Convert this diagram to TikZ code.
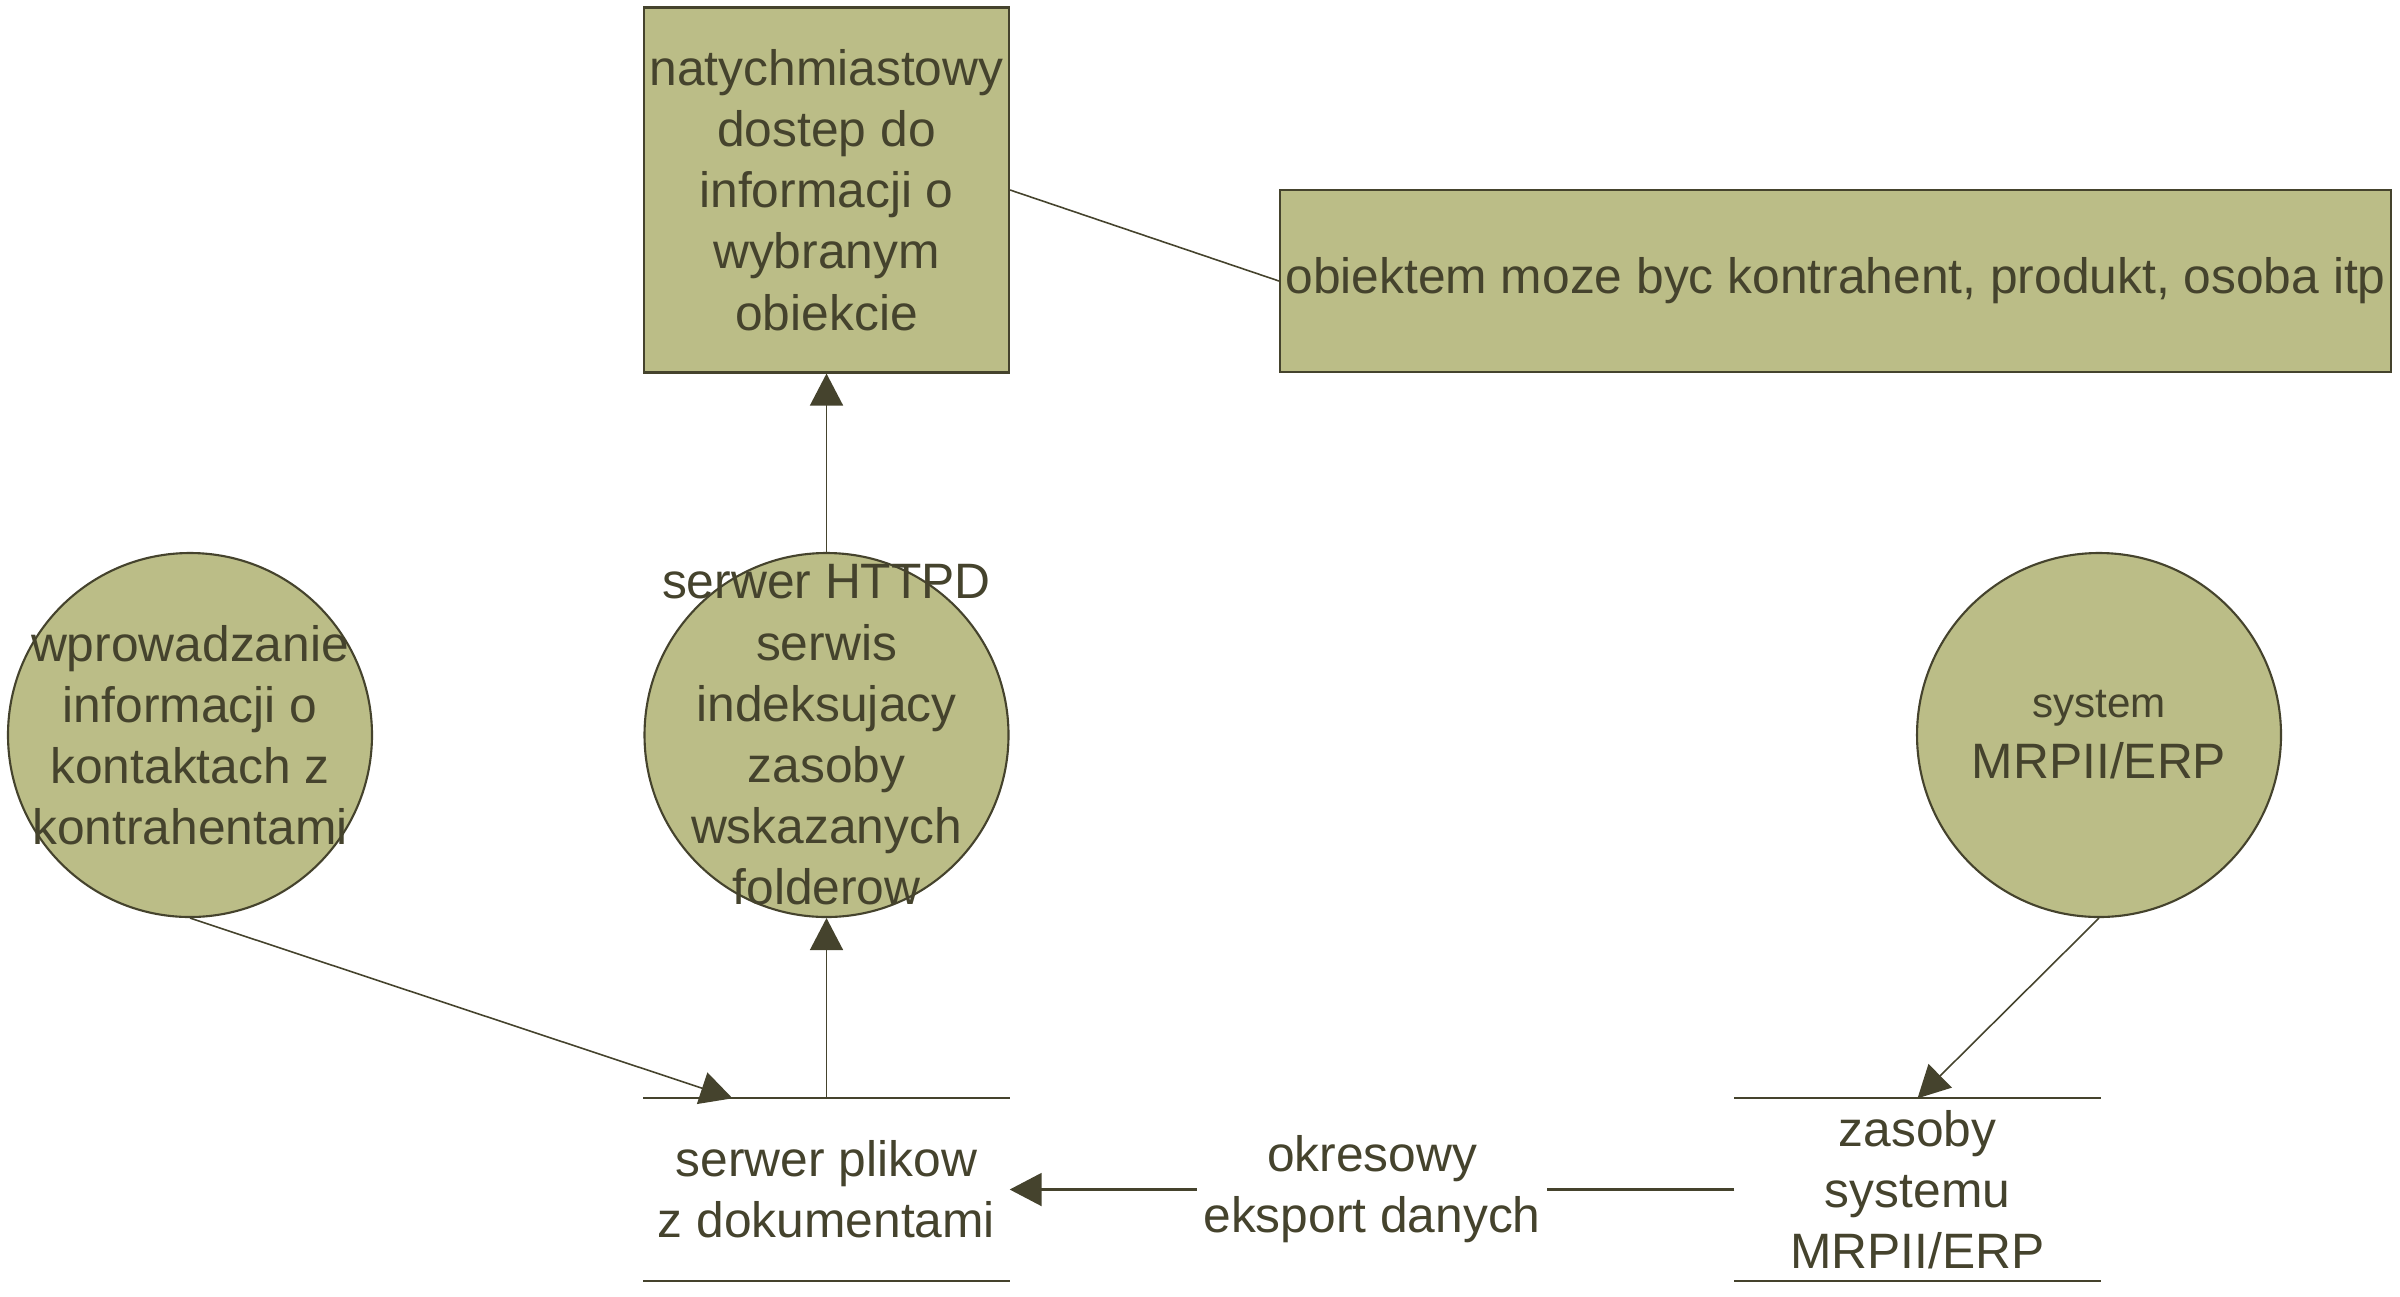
\documentclass[tikz,border=0pt]{standalone}
\usepackage{fontspec}
\setmainfont{Liberation Sans}
\usepackage{xcolor}
\definecolor{khaki}{HTML}{BBBD87}
\definecolor{ink}{HTML}{45432D}
\usetikzlibrary{positioning,arrows.meta,shapes.geometric}
\tikzset{
  >={Triangle[length=3.2mm,width=3.3mm]},
  blk/.style={draw=ink,fill=khaki,line width=0.6pt,align=center,text=ink,inner sep=0pt},
  proc/.style={circle,draw=ink,fill=khaki,line width=0.6pt,minimum size=3.64cm,inner sep=0pt},
  txt/.style={align=center,text=ink,inner sep=0pt},
  store/.style={txt,minimum width=3.65cm,minimum height=1.81cm},
  flow/.style={->,draw=ink,line width=0.45pt},
  link/.style={draw=ink,line width=0.45pt},
  lbl/.style={txt,fill=white,inner xsep=0.6mm},
}

\begin{document}
\begin{tikzpicture}[x=1cm,y=1cm,font=\fontsize{14.15}{17.4}\selectfont]
  \path[fill=white,use as bounding box] (0,0) rectangle (24,-12.96);
  % boxes
  \node[blk,minimum width=3.65cm,minimum height=3.65cm] (info) at (8.265,-1.9) {natychmiastowy\\dostep do\\informacji o\\wybranym\\obiekcie};
  \node[blk,minimum width=11.11cm,minimum height=1.82cm] (uwaga) at (18.355,-2.81) {obiektem moze byc kontrahent, produkt, osoba itp};
  % processes
  \node[proc] (kontakty) at (1.90,-7.35) {};
  \node[txt] (kontakty-t) at (kontakty) {wprowadzanie\\informacji o\\kontaktach z\\kontrahentami};
  \node[proc] (httpd) at (8.265,-7.35) {};
  \node[txt] (httpd-t) at (httpd) {serwer HTTPD\\serwis\\indeksujacy\\zasoby\\wskazanych\\folderow};
  \node[proc] (erp) at (20.99,-7.35) {};
  \node[txt] (erp-t) at (erp) {{\fontsize{12}{17.4}\selectfont system}\\MRPII/ERP};
  % data stores
  \node[store] (pliki) at (8.265,-11.895) {serwer plikow\\z dokumentami};
  \node[store] (zasoby) at (19.175,-11.895) {zasoby\\systemu\\MRPII/ERP};
  \foreach \s in {pliki,zasoby}{
    \draw[draw=ink,line width=0.6pt] (\s.north west) -- (\s.north east) (\s.south west) -- (\s.south east);
  }
  % connectors
  \draw[link] (info.east) -- (uwaga.west);
  \draw[flow] (httpd.north) -- (info.south);
  \draw[flow] (pliki.north) -- (httpd.south);
  \draw[flow] (kontakty.south) -- ([xshift=-9.4mm]pliki.north);
  \draw[flow] (erp.south) -- (zasoby.north);
  \draw[flow,line width=0.6pt] (zasoby.west) -- node[lbl] (eksport) {okresowy\\eksport danych} (pliki.east);
\end{tikzpicture}
\end{document}
